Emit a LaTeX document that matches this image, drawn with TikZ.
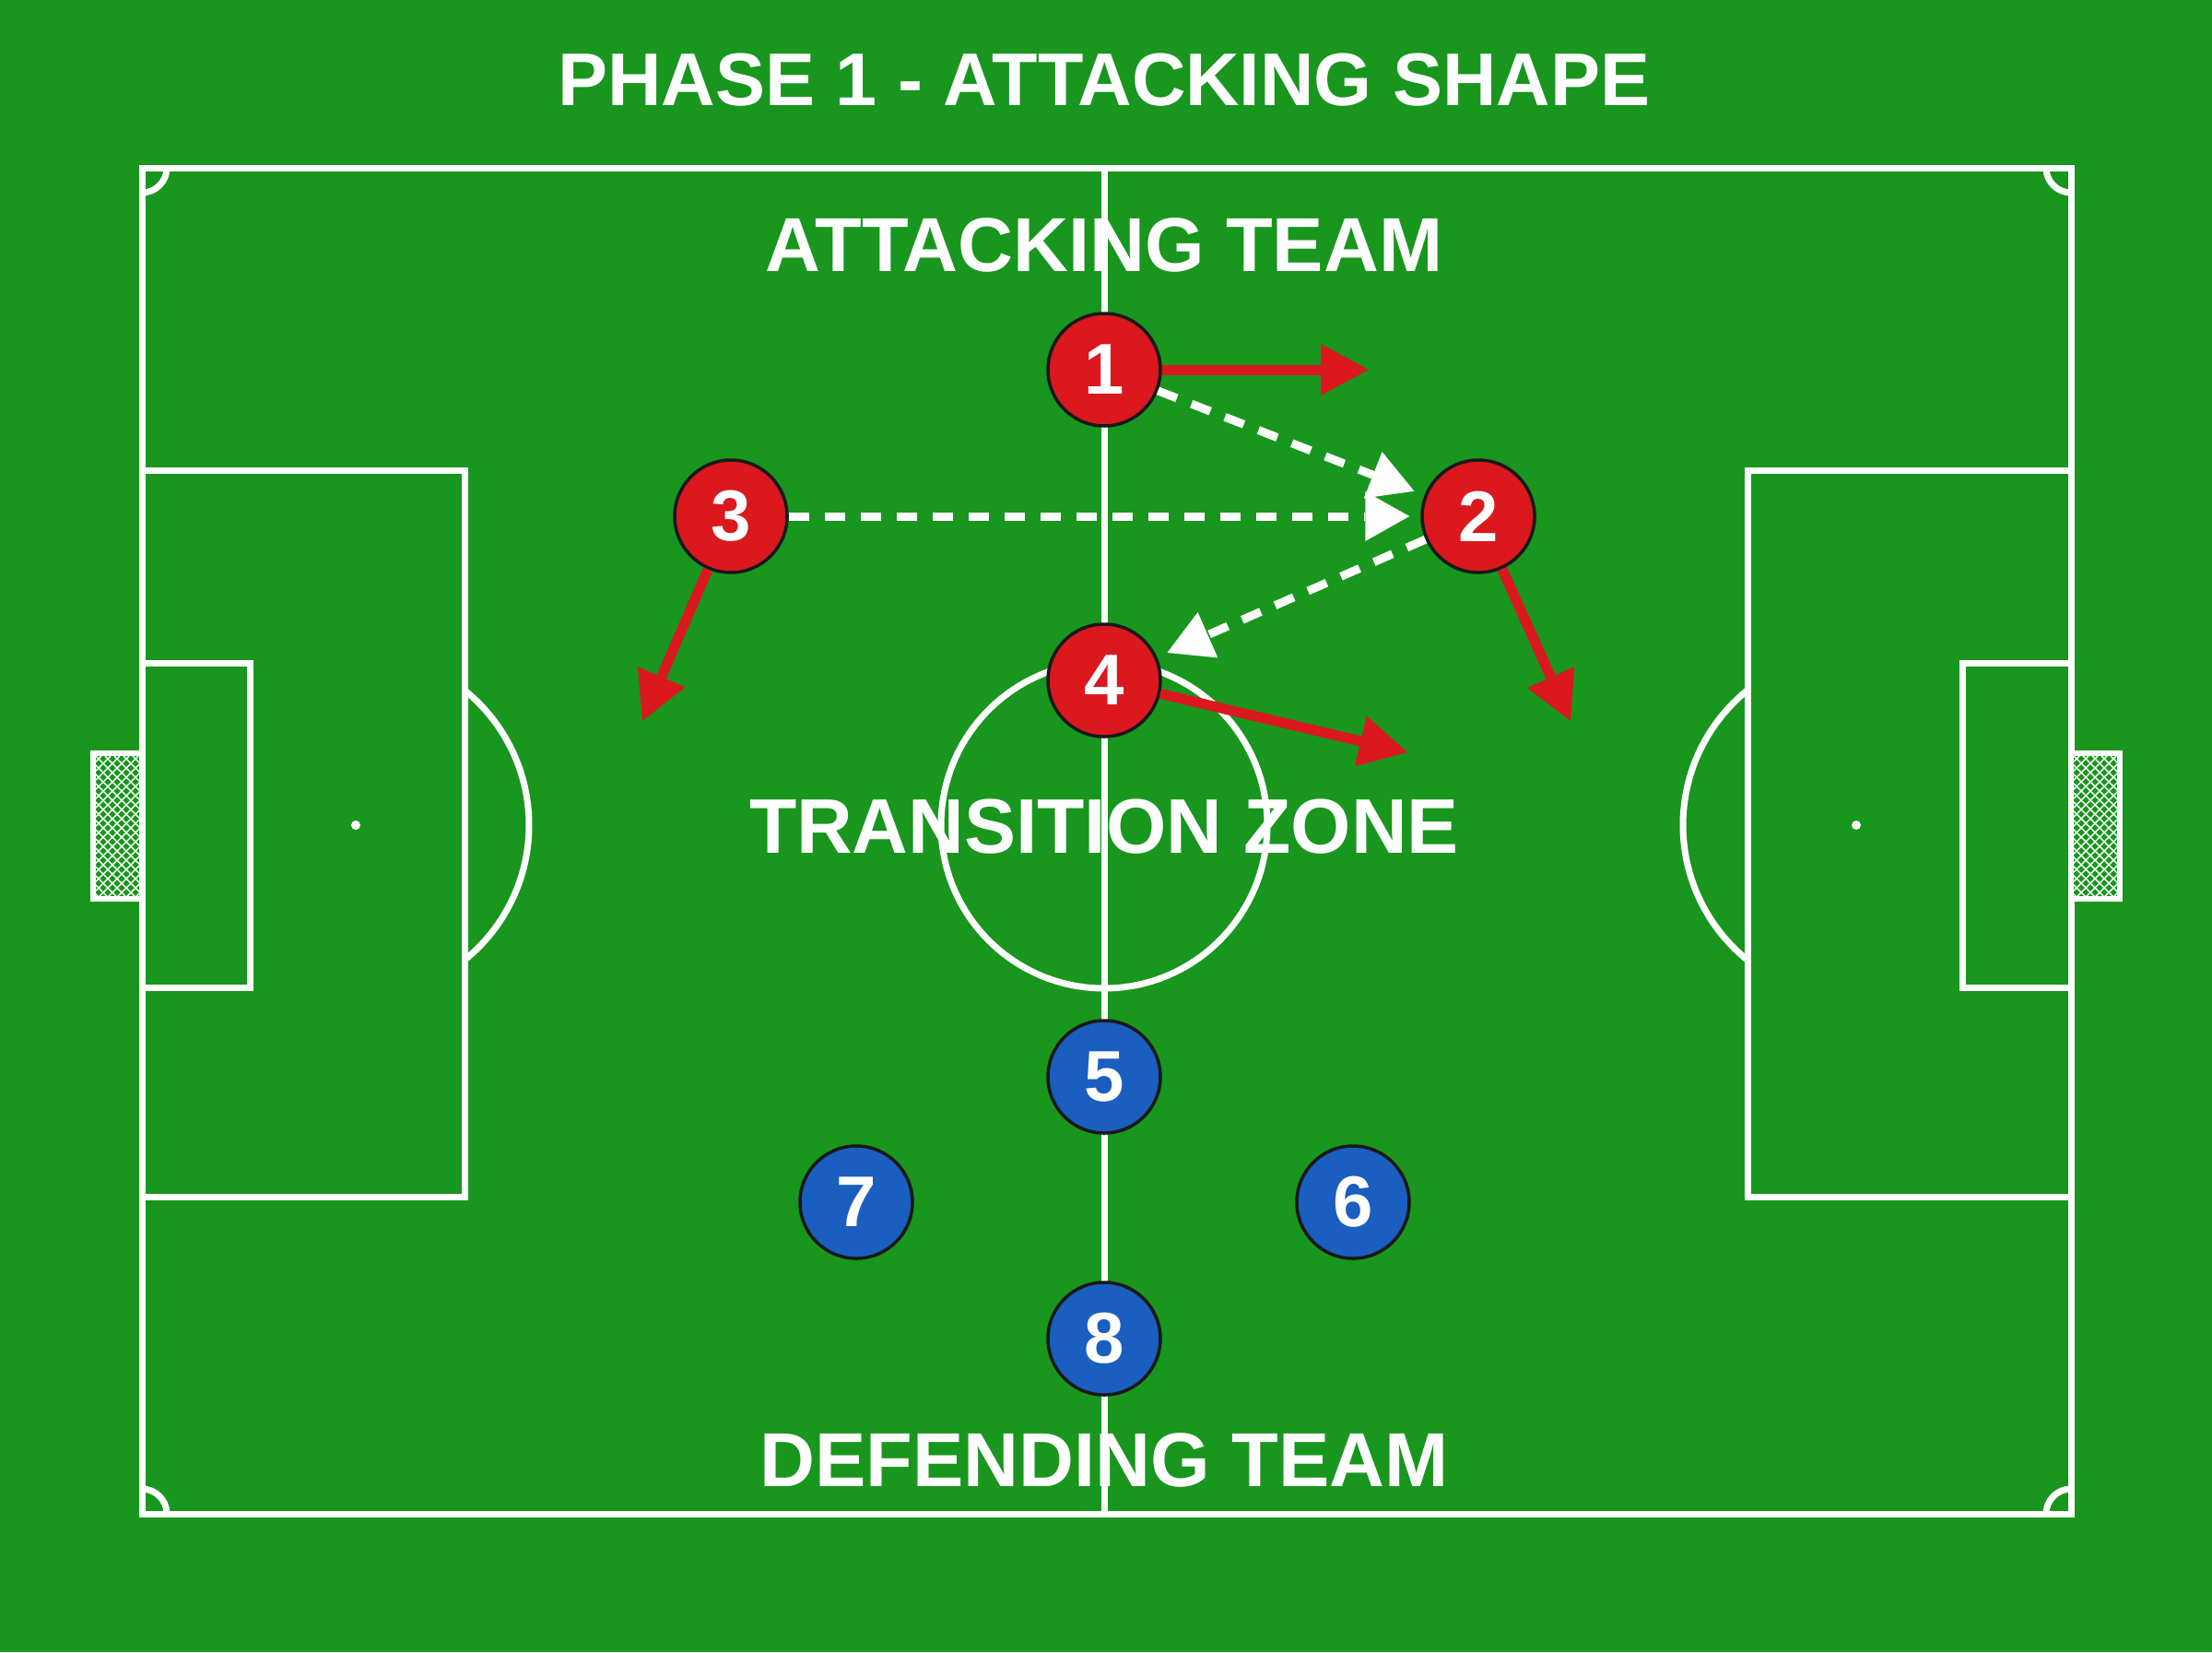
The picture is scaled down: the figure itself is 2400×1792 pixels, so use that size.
\documentclass[tikz,border=0pt]{standalone}
\usepackage{fontspec}
\setmainfont{Liberation Sans}
\usetikzlibrary{arrows.meta}
\definecolor{grass}{RGB}{24,150,30}
\definecolor{pred}{RGB}{218,24,30}
\definecolor{pblue}{RGB}{26,94,192}
\begin{document}
\begin{tikzpicture}[x=1pt,y=-1pt]
\tikzset{
  pitchline/.style={draw=white, line width=7pt},
  player/.style={circle, minimum size=122pt, inner sep=0pt, draw=black!90, line width=3.5pt,
    text=white, font=\fontsize{78}{78}\selectfont\bfseries},
  attacker/.style={player, fill=pred},
  defender/.style={player, fill=pblue},
  runarrow/.style={draw=pred, line width=11pt, -{Triangle[length=52pt,width=56pt,line width=0pt]}},
  passarrow/.style={draw=white, line width=9pt, dash pattern=on 22pt off 17pt,
    -{Triangle[length=48pt,width=54pt,line width=0pt]}, shorten >=12pt},
  zonetext/.style={text=white, inner sep=0pt, font=\fontsize{83}{83}\selectfont\bfseries},
  netline/.style={draw=white, line width=1.4pt},
}
% background
\fill[grass] (0,0) rectangle (2400,1792);
\useasboundingbox (0,0) rectangle (2400,1792);

% pitch outline and halfway line
\draw[pitchline] (154,182) rectangle (2247,1642);
\draw[pitchline] (1198,182) -- (1198,1642);
% centre circle
\draw[pitchline] (1198,895) circle[radius=177];
% penalty boxes and goal areas
\draw[pitchline] (154,510) -- (504,510) -- (504,1298) -- (154,1298);
\draw[pitchline] (154,719) -- (271,719) -- (271,1071) -- (154,1071);
\draw[pitchline] (2247,510) -- (1896,510) -- (1896,1298) -- (2247,1298);
\draw[pitchline] (2247,719) -- (2129,719) -- (2129,1071) -- (2247,1071);
% penalty arcs
\draw[pitchline] (386,895) ++(-51.1:188) arc[start angle=-51.1, end angle=51.1, radius=188];
\draw[pitchline] (2014,895) ++(128.9:188) arc[start angle=128.9, end angle=231.1, radius=188];
% penalty spots
\fill[white] (386,895) circle[radius=5];
\fill[white] (2014,895) circle[radius=5];
% corner arcs
\draw[pitchline] (181,182) arc[start angle=0, end angle=90, radius=27];
\draw[pitchline] (2220,182) arc[start angle=180, end angle=90, radius=27];
\draw[pitchline] (181,1642) arc[start angle=0, end angle=-90, radius=27];
\draw[pitchline] (2220,1642) arc[start angle=180, end angle=270, radius=27];
% goals
\fill[white] (98,814) rectangle (157,978);
\fill[grass] (104,820) rectangle (151,972);
\begin{scope}
  \clip (104,820) rectangle (151,972);
  \foreach \k in {-180,-170,...,60} {\draw[netline] (104+\k,820) -- ++(160,160);}
  \foreach \k in {100,110,...,340} {\draw[netline] (\k,820) -- ++(-160,160);}
\end{scope}
\fill[white] (2244,814) rectangle (2303,978);
\fill[grass] (2250,820) rectangle (2297,972);
\begin{scope}
  \clip (2250,820) rectangle (2297,972);
  \foreach \k in {-180,-170,...,60} {\draw[netline] (2250+\k,820) -- ++(160,160);}
  \foreach \k in {2246,2256,...,2486} {\draw[netline] (\k,820) -- ++(-160,160);}
\end{scope}

% texts
\node[zonetext, font=\fontsize{81}{81}\selectfont\bfseries] (title) at (1198,87) {PHASE 1 - ATTACKING SHAPE};
\node[zonetext] (attack) at (1198,266) {ATTACKING TEAM};
\node[zonetext, font=\fontsize{84}{84}\selectfont\bfseries] (zone) at (1198,897) {TRANSITION ZONE};
\node[zonetext] (defend) at (1198,1584) {DEFENDING TEAM};

% run targets
\coordinate (t1) at (1485,401);
\coordinate (t2) at (1704,782);
\coordinate (t3) at (697,782);
\coordinate (t4) at (1527,816);

% players
\node[attacker] (p1) at (1198,401) {1};
\node[attacker] (p2) at (1604,560) {2};
\node[attacker] (p3) at (793,560) {3};
\node[attacker] (p4) at (1198,738) {4};
\node[defender] (p5) at (1198,1168) {5};
\node[defender] (p6) at (1468,1304) {6};
\node[defender] (p7) at (929,1304) {7};
\node[defender] (p8) at (1198,1452) {8};

% arrows
\draw[runarrow] (p1) -- (t1);
\draw[runarrow] (p2) -- (t2);
\draw[runarrow] (p3) -- (t3);
\draw[runarrow] (p4) -- (t4);
\draw[passarrow] (p1) -- (p2);
\draw[passarrow] (p3) -- (p2);
\draw[passarrow] (p2) -- (p4);
\end{tikzpicture}
\end{document}
